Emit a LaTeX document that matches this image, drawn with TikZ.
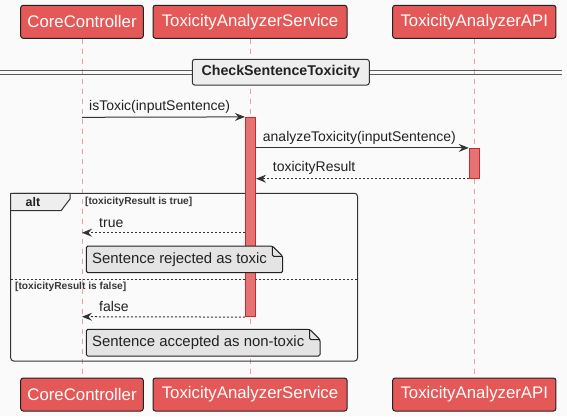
\documentclass[tikz,border=0pt]{standalone}
\usepackage{fontspec}
\setmainfont{Liberation Sans}
\usetikzlibrary{arrows.meta}
\definecolor{bgcol}{HTML}{FAFAFA}
\definecolor{partfill}{HTML}{E55858}
\definecolor{barfill}{HTML}{E57373}
\definecolor{barline}{HTML}{C62828}
\definecolor{lifecol}{HTML}{E8A0A0}
\definecolor{notefill}{HTML}{E4E4E4}
\definecolor{groupfill}{HTML}{EEEEEE}
\definecolor{inkcol}{HTML}{333333}
\definecolor{textcol}{HTML}{222222}
\begin{document}
\begin{tikzpicture}[x=1pt,y=-1pt,>={Stealth[length=10pt,width=8pt,inset=3.5pt]},line join=bevel,
  participant/.style={draw=textcol,fill=partfill,text=white,rounded corners=2.5pt,line width=1pt,
    minimum height=33pt,inner sep=0pt,font=\fontsize{16.8}{18}\selectfont},
  lifeline/.style={draw=lifecol,dash pattern=on 5pt off 5pt,line width=0.8pt},
  activation/.style={draw=barline,fill=barfill,line width=0.8pt,minimum width=10.4pt,inner sep=0pt},
  msg/.style={->,draw=inkcol,line width=1pt},
  reply/.style={->,draw=inkcol,line width=1pt,dash pattern=on 2pt off 2pt},
  msgtext/.style={anchor=west,inner sep=0pt,text=textcol,font=\fontsize{14}{16}\selectfont},
  notebox/.style={draw=textcol,fill=notefill,line width=1pt,rounded corners=1.5pt},
  notetext/.style={anchor=west,inner sep=0pt,text=textcol,font=\fontsize{14.9}{17}\selectfont},
  divider/.style={draw=inkcol!80,line width=0.9pt},
  divbox/.style={draw=inkcol,fill=groupfill,rounded corners=2.5pt,line width=1pt,minimum width=177pt,
    minimum height=25.7pt,inner sep=0pt,text=textcol,font=\bfseries\fontsize{14.2}{16}\selectfont},
  frame/.style={draw=inkcol,line width=1pt,rounded corners=3pt},
  alttab/.style={draw=inkcol,fill=groupfill,line width=1pt},
  separator/.style={draw=inkcol,line width=0.8pt,dash pattern=on 2pt off 2pt},
  alttext/.style={inner sep=0pt,text=textcol,font=\bfseries\fontsize{12.5}{14}\selectfont},
  guardtext/.style={anchor=west,inner sep=0pt,text=textcol!90,font=\bfseries\fontsize{10.2}{12}\selectfont},
]
\useasboundingbox (0,0) rectangle (567,416);
\fill[bgcol] (0,0) rectangle (567,416);
%%
  % Node: CoreController
  \node[participant,minimum width=122.6pt] (cctop) at (82,21.8) {CoreController};
  \node[participant,minimum width=122.6pt] (ccbot) at (82,394.5) {CoreController};
  % Node: ToxicityAnalyzerService
  \node[participant,minimum width=194pt] (svctop) at (250,21.8) {ToxicityAnalyzerService};
  \node[participant,minimum width=194pt] (svcbot) at (250,394.5) {ToxicityAnalyzerService};
  % Node: ToxicityAnalyzerAPI
  \node[participant,minimum width=163.3pt] (apitop) at (474.3,21.8) {ToxicityAnalyzerAPI};
  \node[participant,minimum width=163.3pt] (apibot) at (474.3,394.5) {ToxicityAnalyzerAPI};
  % Lifelines
  \draw[lifeline] (cctop) -- (ccbot);
  \draw[lifeline] (svctop) -- (svcbot);
  \draw[lifeline] (apitop) -- (apibot);
  % Divider: CheckSentenceToxicity
  \draw[divider] (0,70.7) -- (561.7,70.7);
  \draw[divider] (0,74) -- (561.7,74);
  \node[divbox] (checkdiv) at (280.8,72.2) {CheckSentenceToxicity};
  % Group: alt
  \draw[frame] (10.7,193.3) rectangle (357.5,361);
  \filldraw[alttab] (10.7,193.3) -- (70,193.3) -- (70,199) -- (61,210.7) -- (10.7,210.7) -- cycle;
  \node[alttext] (altlbl) at (33,202.2) {alt};
  \node[guardtext] (guardtrue) at (85,202.2) {[toxicityResult is true]};
  \draw[separator] (10.7,279.3) -- (357.5,279.3);
  \node[guardtext] (guardfalse) at (15,286.7) {[toxicityResult is false]};
  % Activations
  \node[activation,minimum height=199.4pt] (svcbar) at (250.5,217) {};
  \node[activation,minimum height=30pt] (apibar) at (474.3,163.3) {};
  \coordinate (cc1) at (82,117.3);
  \coordinate (cc2) at (82,232.7);
  \coordinate (cc3) at (82,316.7);
  % Edge: CoreController -> ToxicityAnalyzerService
  \draw[msg] (cc1) -- (svcbar.north west);
  \node[msgtext] (istoxiclbl) at (89,107) {isToxic(inputSentence)};
  % Edge: ToxicityAnalyzerService -> ToxicityAnalyzerAPI
  \draw[msg] (svcbar.east |- apibar.north) -- (apibar.north west);
  \node[msgtext] (analyzelbl) at (262.7,137.5) {analyzeToxicity(inputSentence)};
  % Edge: ToxicityAnalyzerAPI -> ToxicityAnalyzerService
  \draw[reply] (apibar.south west) -- (apibar.south -| svcbar.east);
  \node[msgtext] (resultlbl) at (272.7,168) {toxicityResult};
  % Edge: ToxicityAnalyzerService -> CoreController (true)
  \draw[reply] (svcbar.west |- cc2) -- (cc2);
  \node[msgtext] (truelbl) at (99,223) {true};
  % Note: rejected
  \filldraw[notebox] (86.3,246) -- (272.3,246) -- (282.7,256.4) -- (282.7,272.7) -- (86.3,272.7) -- cycle;
  \draw[notebox,fill=none] (272.3,246) -- (272.3,256.4) -- (282.7,256.4);
  \node[notetext] (noterej) at (92,259.4) {Sentence rejected as toxic};
  % Edge: ToxicityAnalyzerService -> CoreController (false)
  \draw[reply] (svcbar.south west) -- (cc3);
  \node[msgtext] (falselbl) at (99,306) {false};
  % Note: accepted
  \filldraw[notebox] (86.3,329.3) -- (309.6,329.3) -- (320,339.7) -- (320,356) -- (86.3,356) -- cycle;
  \draw[notebox,fill=none] (309.6,329.3) -- (309.6,339.7) -- (320,339.7);
  \node[notetext] (noteacc) at (92,342.6) {Sentence accepted as non-toxic};
%
\end{tikzpicture}
\end{document}
